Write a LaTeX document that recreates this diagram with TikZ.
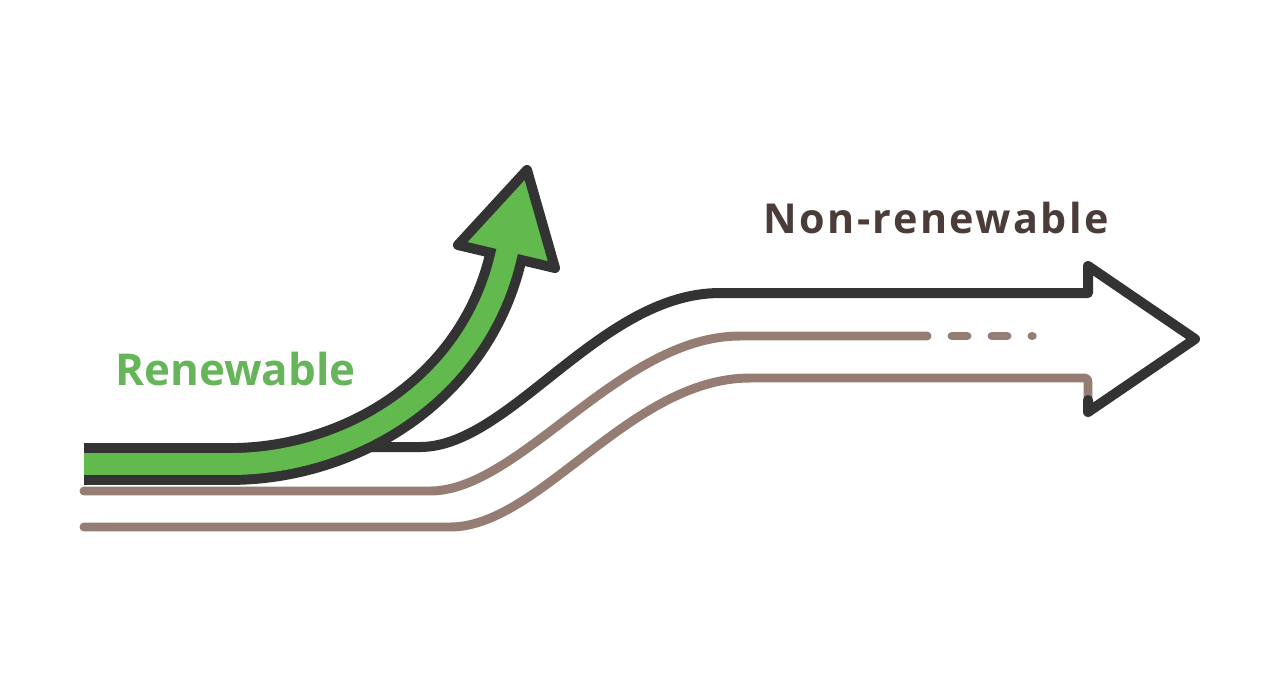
\documentclass[tikz,border=0pt]{standalone}
\usepackage{fontspec}
\setmainfont{Open Sans}
\usepackage{xcolor}
\usetikzlibrary{positioning}
\definecolor{leafgreen}{HTML}{62BA4F}
\definecolor{labelgreen}{HTML}{66B55A}
\definecolor{outline}{HTML}{333333}
\definecolor{earth}{HTML}{957D74}
\definecolor{labelbrown}{HTML}{4A3C39}

\begin{document}
\begin{tikzpicture}[
  x=0.02cm, y=-0.02cm,
  trail/.style={draw=earth, line width=5.1pt, line cap=round, line join=round},
  edge/.style={draw=outline, line width=5.7pt, line cap=round, line join=round},
  bandout/.style={draw=outline, line width=23.8pt},
  bandin/.style={draw=leafgreen, line width=12.5pt},
  tip/.style={fill=leafgreen, draw=outline, line width=5.7pt, line join=round},
  lbl/.style={font=\bfseries, inner sep=0pt}
]
\useasboundingbox[fill=white] (0,0) rectangle (1280,698);
% Non-renewable lanes
\draw[trail] (84,527) -- (450,527) .. controls (540,527) and (630,378) .. (750,378)
  [rounded corners=2pt] -- (1088,378) -- (1088,398);
\draw[trail] (84,491) -- (430,491) .. controls (520,491) and (620,336) .. (740,336) -- (927,336);
\draw[trail] (952,336) -- (967,336);
\draw[trail] (992,336) -- (1007,336);
\draw[trail] (1032,336) -- (1032.2,336);
\draw[edge] (340,447) -- (420,447) .. controls (510,447) and (600,293) .. (720,293)
  -- (1088,293) -- (1088,266) -- (1195,339) -- (1088,412) -- (1088,400);
% Renewable arrow
\draw[bandout] (84,464) -- (230,464) .. controls (350,464) and (475,390) .. (506,256);
\draw[tip] (458,245) -- (527,170) -- (555,268) -- cycle;
\draw[bandin] (84,464) -- (230,464) .. controls (350,464) and (475,390) .. (506,256) -- (509,244);
% Labels
\node[lbl, text=labelgreen, anchor=base west, font=\bfseries\fontsize{25pt}{30pt}\selectfont] (renew) at (115,385) {Renewable};
\node[lbl, text=labelbrown, anchor=base west, font=\bfseries\fontsize{23.5pt}{28pt}\selectfont\addfontfeatures{LetterSpace=6}] (nonrenew) at (763,233) {Non-renewable};
\end{tikzpicture}
\end{document}
